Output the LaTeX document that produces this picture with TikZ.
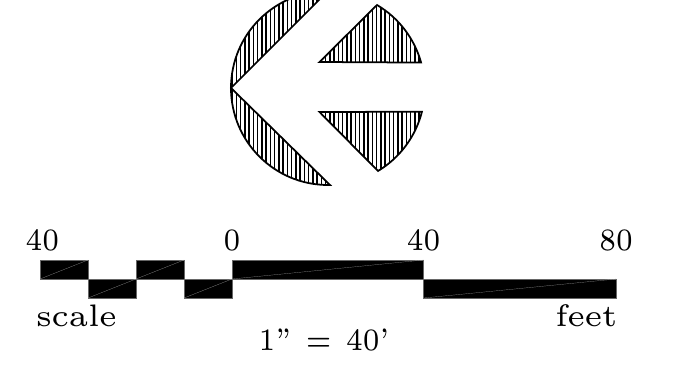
\documentclass[tikz,border=0pt]{standalone}
\usetikzlibrary{positioning}
\tikzset{
 lbl/.style={font=\fontsize{6}{7}\selectfont, xscale=2.6, yscale=2.95, inner sep=0, anchor=base},
 word/.style={font=\fontsize{6}{7}\selectfont, xscale=3, yscale=2.95, inner sep=0, anchor=base},
 bar/.style={fill=black, draw=black!60, very thin},
 seam/.style={draw=white!65!black, ultra thin},
}
\newcommand{\hatchlines}{\foreach \x in {232,236.25,...,426} { \draw[line width=.85pt] (\x,20) --++(0,-220); }}
\begin{document}
\begin{tikzpicture} [x=.2mm,y=.2mm]
\clip (0,0) rectangle (688,-382);
% arrow circle
\begin{scope}
 \clip (328,9) arc[start angle=90,end angle=270,radius=97] -- (330,-185) -- (231,-88) -- cycle;
 \hatchlines
\end{scope}
\begin{scope}
 \clip (319.5,-62) -- (377,-5) arc[start angle=59.4,end angle=15.5,radius=97] -- cycle;
 \hatchlines
\end{scope}
\begin{scope}
 \clip (319.5,-112) -- (378,-171) arc[start angle=-58.9,end angle=-14.2,radius=97] -- cycle;
 \hatchlines
\end{scope}
\draw[line width=1pt, line join=miter] (328,9) arc[start angle=90,end angle=270,radius=97] -- (330,-185) -- (231,-88) -- cycle;
\draw[line width=1pt] (319.5,-62) -- (377,-5) arc[start angle=59.4,end angle=15.5,radius=97] -- cycle;
\draw[line width=1pt] (319.5,-112) -- (378,-171) arc[start angle=-58.9,end angle=-14.2,radius=97] -- cycle;
% scale bar
\foreach \xa/\xb/\ya/\yb in {40/88/-279/-260, 88/136/-298/-279, 136/184/-279/-260, 184/232/-298/-279, 232/423.5/-279/-260, 423.5/616/-298/-279} {
 \path[bar] (\xa,\ya) rectangle (\xb,\yb);
 \draw[seam] (\xa,\ya) -- (\xb,\yb);
}
\node[lbl] (mark40l) at (42.5,-251) {40};
\node[lbl] (mark0) at (232,-251) {0};
\node[lbl] (mark40r) at (423.5,-251) {40};
\node[lbl] (mark80) at (616,-251) {80};
\node[word] (scale) at (76.5,-327) {scale};
\node[word] (feet) at (586.5,-327) {feet};
\node[lbl] (ratio) at (324,-350) {1''\hspace{3.2pt}=\hspace{3.2pt}40'};
\end{tikzpicture}
\end{document}
